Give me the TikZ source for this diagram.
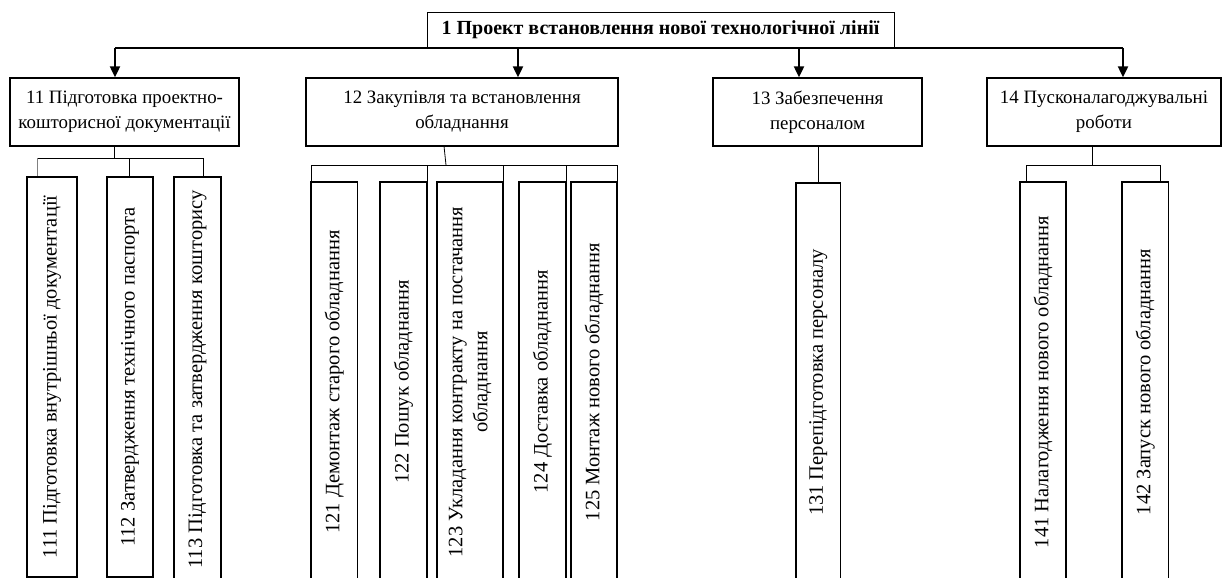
\documentclass[tikz,border=0pt]{standalone}
\usepackage{fontspec}
\setmainfont{Liberation Serif}
\usetikzlibrary{arrows.meta}
\tikzset{
  topbox/.style={draw, line width=0.9pt, inner sep=0pt, align=center, font=\fontsize{20}{24}\selectfont\bfseries},
  midbox/.style={draw, line width=1.3pt, inner sep=0pt, align=center, font=\fontsize{18.9}{25}\selectfont},
  vbox/.style={draw, line width=1.3pt, inner sep=0pt, align=center, rotate=90, font=\fontsize{20.5}{25}\selectfont},
  busline/.style={line width=2pt},
  arr/.style={line width=2pt, -{Triangle[length=11pt,width=10pt]}},
  conn/.style={line width=0.8pt},
}
\begin{document}
\begin{tikzpicture}[x=1pt,y=-1pt]
\useasboundingbox (0,0) rectangle (1224,578);
\clip (0,0) rectangle (1224,578);
% top
\node[topbox, minimum width=467pt, minimum height=36pt] (top) at (660.5,30) {1 Проект встановлення нової технологічної лінії};
% level 1
\node[midbox, minimum width=229pt, minimum height=68pt] (b11) at (124.5,112) {11 Підготовка проектно-\\кошторисної документації};
\node[midbox, minimum width=312pt, minimum height=68pt] (b12) at (462,112) {12 Закупівля та встановлення\\обладнання};
\node[midbox, minimum width=209pt, minimum height=68pt] (b13) at (817.5,112) {13 Забезпечення\\персоналом};
\node[midbox, minimum width=234pt, minimum height=68pt] (b14) at (1104,112) {14 Пусконалагоджувальні\\роботи};
% bus and arrows
\coordinate (a11) at (115,48);
\coordinate (a12) at (518,48);
\coordinate (a13) at (799,48);
\coordinate (a14) at (1123,48);
\draw[busline] (a11) -- (a14);
\draw[arr] (a11) -- (a11 |- b11.north);
\draw[arr] (a12) -- (a12 |- b12.north);
\draw[arr] (a13) -- (a13 |- b13.north);
\draw[arr] (a14) -- (a14 |- b14.north);
% level 2 boxes
\node[vbox, minimum width=400pt, minimum height=50pt] (b111) at (52,377) {111 Підготовка внутрішньої документації};
\node[vbox, minimum width=400pt, minimum height=46pt] (b112) at (130,377) {112 Затвердження технічного паспорта};
\node[vbox, minimum width=405pt, minimum height=47pt] (b113) at (197.5,379.5) {113 Підготовка та затвердження кошторису};
\node[vbox, minimum width=400pt, minimum height=46.5pt] (b121) at (334.25,382) {121 Демонтаж старого обладнання};
\node[vbox, minimum width=400pt, minimum height=47pt] (b122) at (403.5,382) {122 Пошук обладнання};
\node[vbox, minimum width=400pt, minimum height=66pt] (b123) at (470,382) {123 Укладання контракту на постачання\\обладнання};
\node[vbox, minimum width=400pt, minimum height=47pt] (b124) at (542.5,382) {124 Доставка обладнання};
\node[vbox, minimum width=400pt, minimum height=46pt] (b125) at (594,382) {125 Монтаж нового обладнання};
\node[vbox, minimum width=399pt, minimum height=44.5pt] (b131) at (818.25,382.5) {131 Перепідготовка персоналу};
\node[vbox, minimum width=400pt, minimum height=46pt] (b141) at (1043,382) {141 Налагодження нового обладнання};
\node[vbox, minimum width=400pt, minimum height=46.5pt] (b142) at (1145.25,382) {142 Запуск нового обладнання};
% group 11 connectors
\coordinate (c11) at (114,146);
\coordinate (j11) at (114,158);
\coordinate (j111) at (37,158);
\coordinate (j112) at (129,158);
\coordinate (j113) at (203,158);
\draw[conn] (c11) -- (j11);
\draw[conn] (j111) -- (j113);
\draw[conn, gray] (j111) -- (j111 |- b111.east);
\draw[conn] (j112) -- (j112 |- b112.east);
\draw[conn] (j113) -- (j113 |- b113.east);
% group 12 connectors
\coordinate (c12) at (444,146);
\coordinate (j12) at (446,165);
\coordinate (j121) at (311,165);
\coordinate (j122) at (427,165);
\coordinate (j123) at (503,165);
\coordinate (j124) at (566,165);
\coordinate (j125) at (617,165);
\draw[conn] (c12) -- (j12);
\draw[conn] (j121) -- (j125);
\draw[conn] (j121) -- (j121 |- b121.east);
\draw[conn] (j122) -- (j122 |- b122.east);
\draw[conn] (j123) -- (j123 |- b123.east);
\draw[conn] (j124) -- (j124 |- b124.east);
\draw[conn] (j125) -- (j125 |- b125.east);
% group 13 connector
\coordinate (c13) at (818,146);
\draw[conn] (c13) -- (c13 |- b131.east);
% group 14 connectors
\coordinate (c14) at (1092,146);
\coordinate (j14) at (1092,165);
\coordinate (j141) at (1026,165);
\coordinate (j142) at (1160,165);
\draw[conn] (c14) -- (j14);
\draw[conn] (j141) -- (j142);
\draw[conn] (j141) -- (j141 |- b141.east);
\draw[conn] (j142) -- (j142 |- b142.east);
\end{tikzpicture}
\end{document}
